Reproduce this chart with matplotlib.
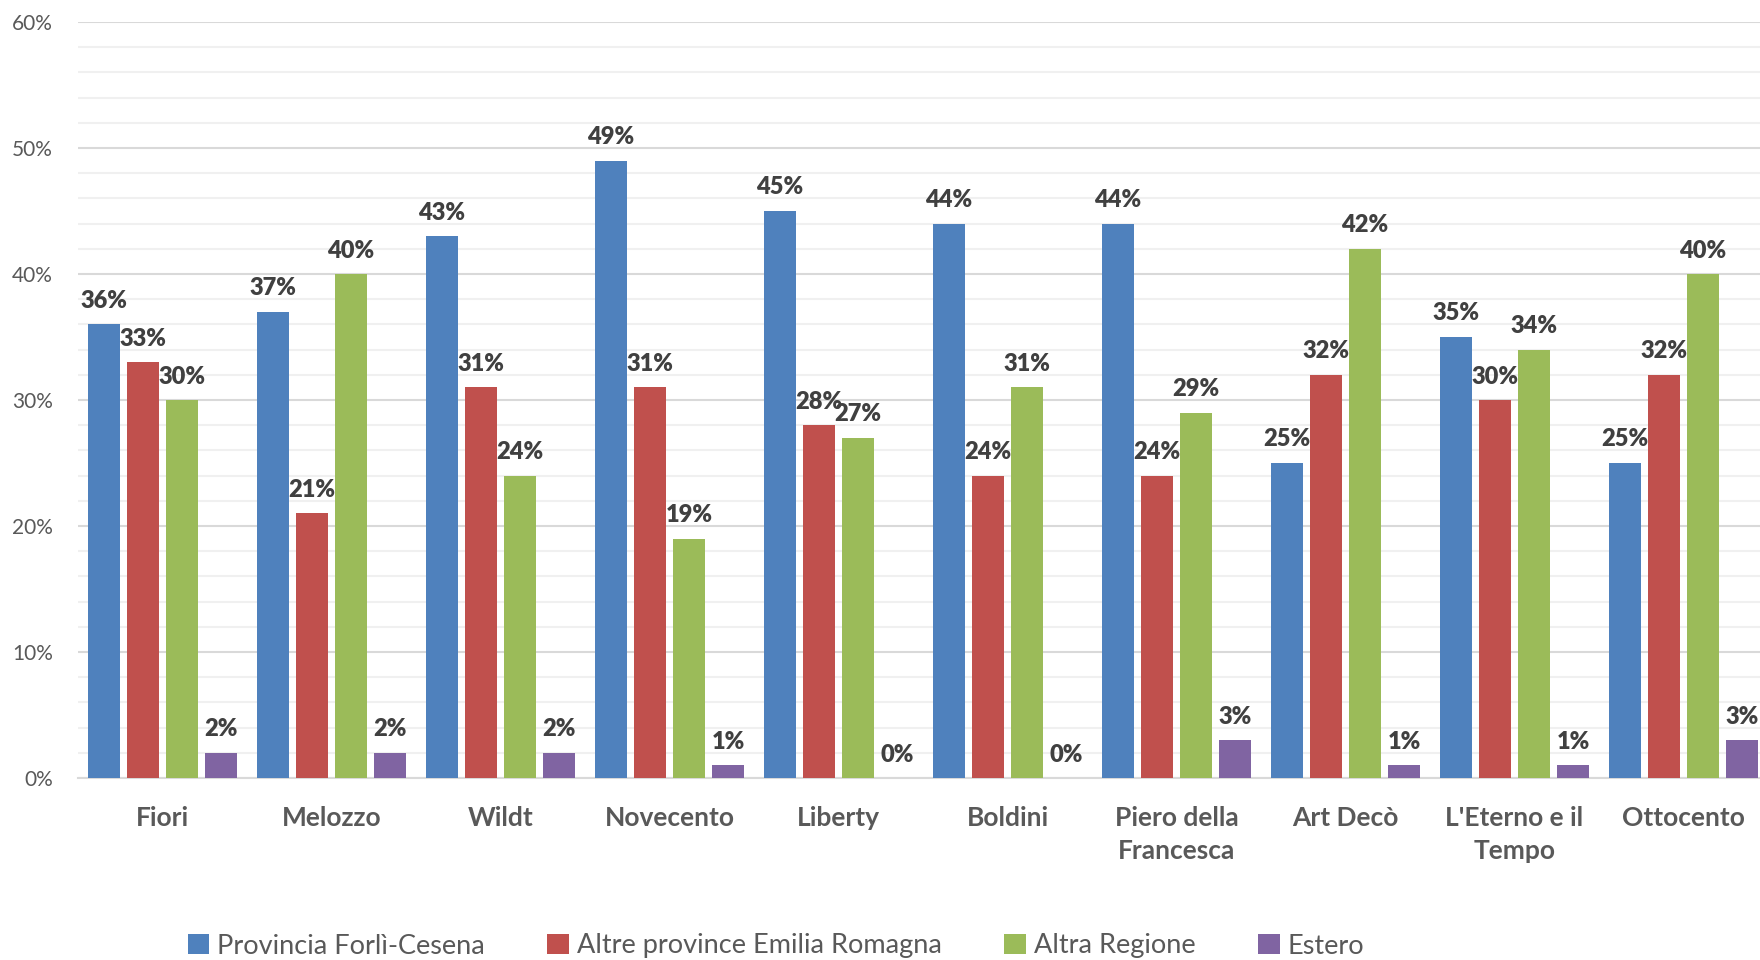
import matplotlib
matplotlib.use("Agg")
import matplotlib.pyplot as plt
import numpy as np
from matplotlib.patches import Patch

categories = ["Fiori", "Melozzo", "Wildt", "Novecento", "Liberty", "Boldini",
              "Piero della\nFrancesca", "Art Decò", "L'Eterno e il\nTempo", "Ottocento"]
series_names = ["Provincia Forlì-Cesena", "Altre province Emilia Romagna", "Altra Regione", "Estero"]
provincia = [36, 37, 43, 49, 45, 44, 44, 25, 35, 25]
altre_province = [33, 21, 31, 31, 28, 24, 24, 32, 30, 32]
altra_regione = [30, 40, 24, 19, 27, 31, 29, 42, 34, 40]
estero = [2, 2, 2, 1, 0, 0, 3, 1, 1, 3]
yticks = [0, 10, 20, 30, 40, 50, 60]

colors = ["#4f81bd", "#c0504d", "#9bbb59", "#8064a2"]
font = ["Lato", "DejaVu Sans"]
plt.rcParams["font.family"] = font

fig = plt.figure(figsize=(17.6, 9.6), dpi=100)
ax = fig.add_axes([78 / 1760, 1 - 778 / 960, 1690 / 1760, 756 / 960])

data = [provincia, altre_province, altra_regione, estero]
x = np.arange(len(categories))
pitch = 0.231
width = 0.19
for i, vals in enumerate(data):
    offs = (i - 1.5) * pitch
    ax.bar(x + offs, vals, width=width, color=colors[i], zorder=3)
    for xi, v in zip(x, vals):
        ax.annotate(f"{v}%", (xi + offs, v), xytext=(0, 9), textcoords="offset points",
                    ha="center", va="bottom", fontsize=17, fontweight="heavy", color="#404040",
                    zorder=4)

ax.set_xlim(-0.5, len(categories) - 0.5)
ax.set_ylim(0, 60)
ax.set_yticks(yticks)
ax.set_yticklabels([f"{t}%" for t in yticks], fontsize=15, color="#595959")
ax.set_yticks(np.arange(0, 61, 2), minor=True)
ax.grid(axis="y", which="major", color="#d9d9d9", linewidth=1.5, zorder=0)
ax.grid(axis="y", which="minor", color="#f0f0f0", linewidth=1.5, zorder=0)
ax.tick_params(axis="y", which="both", length=0, pad=18)
ax.set_xticks(x)
ax.set_xticklabels(categories, fontsize=19, fontweight="bold", color="#595959", linespacing=1.45)
ax.tick_params(axis="x", length=0, pad=20)
for s in ["top", "right", "left"]:
    ax.spines[s].set_visible(False)
ax.spines["bottom"].set_color("#d9d9d9")
ax.spines["bottom"].set_linewidth(1.5)

handles = [Patch(facecolor=c, label=n) for c, n in zip(colors, series_names)]
fig.legend(handles=handles, loc="center", bbox_to_anchor=(776 / 1760, 1 - 946 / 960), ncol=4,
           frameon=False, fontsize=19.5, labelcolor="#595959", handlelength=0.8, handleheight=0.8,
           handletextpad=0.3, columnspacing=2.3)

fig.savefig("out.png", dpi=100)
